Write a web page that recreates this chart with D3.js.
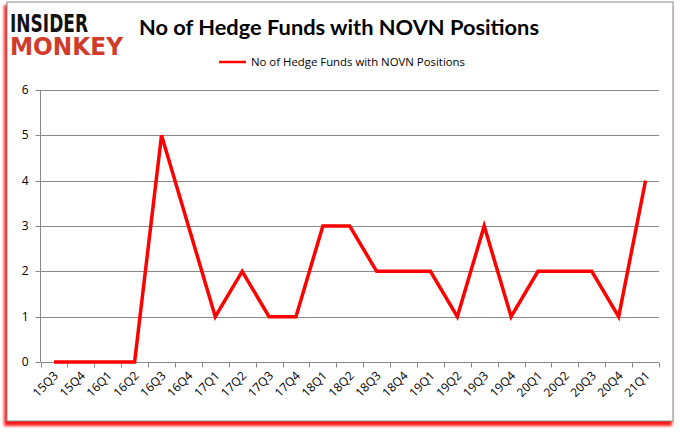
<!DOCTYPE html>
<html><head><meta charset="utf-8">
<script src="https://cdn.jsdelivr.net/npm/d3@7"></script>
<style>body{margin:0;background:#fff}svg{display:block}</style>
</head><body><svg id="c" width="680" height="433"></svg>
<script>
const categories = ["15Q3","15Q4","16Q1","16Q2","16Q3","16Q4","17Q1","17Q2","17Q3","17Q4","18Q1","18Q2","18Q3","18Q4","19Q1","19Q2","19Q3","19Q4","20Q1","20Q2","20Q3","20Q4","21Q1"];
const values = [0,0,0,0,5,3,1,2,1,1,3,3,2,2,2,1,3,1,2,2,2,1,4];
const yTicks = [0,1,2,3,4,5,6];
const seriesName = "No of Hedge Funds with NOVN Positions";
const titleText = "No of Hedge Funds with NOVN Positions";

const svg = d3.select("#c");
const defs = svg.append("defs");
const f = defs.append("filter").attr("id","blur").attr("x","-10%").attr("y","-10%").attr("width","120%").attr("height","120%");
f.append("feGaussianBlur").attr("stdDeviation",1.5);

// frame shadow
svg.append("rect").attr("x",4).attr("y",5).attr("width",668).attr("height",421).attr("fill","#ff0000").attr("filter","url(#blur)").attr("opacity",0.9);
svg.append("rect").attr("x",7).attr("y",2).attr("width",666).attr("height",419).attr("fill","#fff").attr("stroke","#888").attr("stroke-width",1);

const font = "'Open Sans', 'Liberation Sans', sans-serif";
// logo (scaled vertically so the two lines stay compact)
const logo = svg.append("g").attr("transform","translate(10,0) scale(1,1.45)");
logo.append("text").attr("x",0).attr("y",22).attr("font-family","'DejaVu Sans', sans-serif").attr("font-weight","bold").attr("font-size",17).attr("textLength",78).attr("lengthAdjust","spacingAndGlyphs").attr("fill","#111").text("INSIDER");
logo.append("text").attr("x",0).attr("y",38).attr("font-family","'DejaVu Sans', sans-serif").attr("font-weight","bold").attr("font-size",17).attr("textLength",113).attr("lengthAdjust","spacingAndGlyphs").attr("fill","#d13b2a").text("MONKEY");

svg.append("text").attr("x",139).attr("y",35).attr("font-family","'Lato', 'Open Sans', sans-serif").attr("font-weight","bold").attr("font-size",21).attr("textLength",400).attr("lengthAdjust","spacingAndGlyphs").attr("fill","#000").text(titleText);

// legend
svg.append("line").attr("x1",219).attr("x2",246).attr("y1",62).attr("y2",62).attr("stroke","#ff0000").attr("stroke-width",2.5);
svg.append("text").attr("x",251).attr("y",66).attr("font-family",font).attr("font-size",11.5).attr("textLength",214).attr("lengthAdjust","spacingAndGlyphs").attr("fill","#000").text(seriesName);

const x = d3.scaleBand().domain(categories).range([40.5,659]);
const y = d3.scaleLinear().domain([0,6]).range([362,90]);

// gridlines
svg.append("g").selectAll("line").data(yTicks.filter(d=>d>0)).join("line")
  .attr("x1",40.5).attr("x2",659).attr("y1",d=>Math.round(y(d))+0.5).attr("y2",d=>Math.round(y(d))+0.5)
  .attr("stroke","#888").attr("stroke-width",1);

// y axis
const ya = svg.append("g").attr("transform","translate(40.5,0)")
  .call(d3.axisLeft(y).tickValues(yTicks).tickSize(5).tickPadding(7).tickFormat(d3.format("d")));
ya.select(".domain").attr("stroke","#888").attr("d","M0,90V362");
ya.selectAll(".tick line").attr("stroke","#888");
ya.selectAll(".tick").attr("transform",d=>`translate(0,${Math.round(y(d))+0.5})`);
ya.selectAll("text").attr("font-family",font).attr("font-size",12).attr("fill","#000");

// x axis
const xa = svg.append("g").attr("transform","translate(0,362.5)")
  .call(d3.axisBottom(x).tickSize(0).tickPadding(0));
xa.select(".domain").attr("stroke","#888").attr("d","M40.5,0H659");
const bounds = categories.map(c=>x(c)).concat([x.range()[1]]);
xa.append("g").selectAll("line").data(bounds).join("line")
  .attr("x1",d=>Math.round(d)+0.5).attr("x2",d=>Math.round(d)+0.5).attr("y1",0).attr("y2",5).attr("stroke","#888");
xa.selectAll(".tick text").attr("font-family",font).attr("font-size",12).attr("fill","#000")
  .attr("text-anchor","end").attr("dy",0).attr("y",0)
  .attr("transform","translate(5,14) rotate(-45)");

// line
svg.append("path").datum(values)
  .attr("d", d3.line().x((d,i)=>x(categories[i])+x.bandwidth()/2).y(d=>y(d)))
  .attr("fill","none").attr("stroke","#ff0000").attr("stroke-width",3.5).attr("stroke-linejoin","miter");
</script></body></html>
